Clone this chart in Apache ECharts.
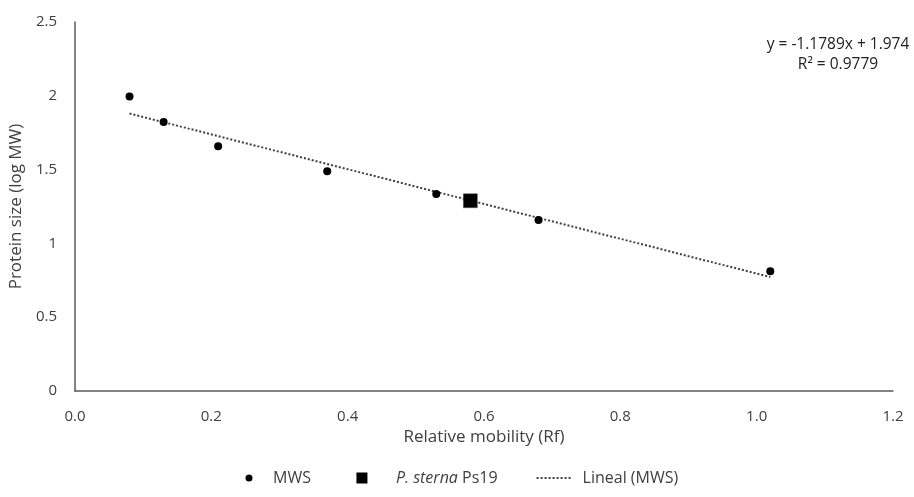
<!DOCTYPE html>
<html>
<head>
<meta charset="utf-8">
<script src="https://cdn.jsdelivr.net/npm/echarts@6/dist/echarts.min.js"></script>
<style>html,body{margin:0;padding:0;background:#fff;}#c{width:914px;height:497px;}</style>
</head>
<body>
<div id="c"></div>
<script>
const mwsX = [0.08, 0.13, 0.21, 0.37, 0.53, 0.68, 1.02];
const mwsY = [1.995, 1.823, 1.658, 1.488, 1.334, 1.158, 0.811];
const sampleX = [0.58];
const sampleY = [1.289];
const trendX = [0.08, 1.02];
const trendY = [1.88, 0.772];
const xTicks = [0, 0.2, 0.4, 0.6, 0.8, 1.0, 1.2];
const yTicks = [0, 0.5, 1, 1.5, 2, 2.5];
const eqText = ['y = -1.1789x + 1.974', 'R\u00b2 = 0.9779'];

const FONT = '"Open Sans", Lato, sans-serif';
const TXT = '#404040';
const chart = echarts.init(document.getElementById('c'));
const zip = (a, b) => a.map((v, i) => [v, b[i]]);

// legend icon paths (box 44 x 11; first two moveTos fix the bounding box)
const BOX = 'M0,0 M44,11 ';
const circleIcon = 'path://' + BOX + 'M21.5,5.5a3.5,3.5 0 1,0 7,0a3.5,3.5 0 1,0 -7,0z';
const squareIcon = 'path://' + BOX + 'M9.5,0h11v11h-11z';
let dots = '';
for (let x = 3; x < 38; x += 4) dots += 'M' + x + ',4.5h2v2h-2z';
const lineIcon = 'path://' + BOX + dots;

chart.setOption({
  animation: false,
  textStyle: { fontFamily: FONT },
  grid: { left: 73, right: 21, top: 22, bottom: 106, containLabel: false },
  xAxis: {
    type: 'value', min: 0, max: 1.2, interval: 0.2,
    name: 'Relative mobility (Rf)', nameLocation: 'middle', nameGap: 38,
    nameTextStyle: { fontSize: 17, color: TXT, fontFamily: FONT },
    axisLine: { show: true, lineStyle: { color: '#595959', width: 1.5 } },
    axisTick: { show: false },
    splitLine: { show: false },
    axisLabel: { fontSize: 15, color: TXT, margin: 18, fontFamily: FONT,
      formatter: v => xTicks.some(t => Math.abs(t - v) < 1e-9) ? v.toFixed(1) : '' }
  },
  yAxis: {
    type: 'value', min: 0, max: 2.5, interval: 0.5,
    name: 'Protein size (log MW)', nameLocation: 'middle', nameGap: 36,
    nameTextStyle: { fontSize: 17, color: TXT, fontFamily: FONT },
    axisLine: { show: true, lineStyle: { color: '#595959', width: 1.5 } },
    axisTick: { show: false },
    splitLine: { show: false },
    axisLabel: { fontSize: 15, color: TXT, margin: 18, fontFamily: FONT,
      formatter: v => yTicks.some(t => Math.abs(t - v) < 1e-9) ? String(v) : '' }
  },
  legend: {
    top: 470, left: 224, padding: 0, itemGap: 36, itemWidth: 44, itemHeight: 11,
    textStyle: { fontSize: 16, color: TXT, fontFamily: FONT,
      rich: { it: { fontStyle: 'italic', fontSize: 16, color: TXT, fontFamily: FONT } } },
    formatter: n => n === 'P. sterna Ps19' ? '{it|P. sterna} Ps19' : n,
    data: [
      { name: 'MWS', icon: circleIcon, itemStyle: { color: '#000', borderWidth: 0 } },
      { name: 'P. sterna Ps19', icon: squareIcon, itemStyle: { color: '#000', borderWidth: 0 } },
      { name: 'Lineal (MWS)', icon: lineIcon, itemStyle: { color: '#404040', borderWidth: 0 } }
    ]
  },
  graphic: [
    { type: 'text', x: 838, y: 45, style: { text: eqText[0], fontSize: 15.5, fill: '#222', fontFamily: FONT, align: 'center', verticalAlign: 'middle' } },
    { type: 'text', x: 838, y: 65, style: { text: eqText[1], fontSize: 15.5, fill: '#222', fontFamily: FONT, align: 'center', verticalAlign: 'middle' } }
  ],
  series: [
    {
      name: 'Lineal (MWS)', type: 'line', data: zip(trendX, trendY), symbol: 'none',
      lineStyle: { color: '#404040', width: 2, type: [2, 2] }, itemStyle: { color: '#404040' }, z: 1
    },
    {
      name: 'MWS', type: 'scatter', data: zip(mwsX, mwsY), symbol: 'circle', symbolSize: 8,
      itemStyle: { color: '#000', opacity: 1 }, z: 3
    },
    {
      name: 'P. sterna Ps19', type: 'scatter', data: zip(sampleX, sampleY), symbol: 'rect', symbolSize: 14,
      itemStyle: { color: '#000', borderColor: '#555', borderWidth: 0.5, opacity: 1 }, z: 4
    }
  ]
});
</script>
</body>
</html>
